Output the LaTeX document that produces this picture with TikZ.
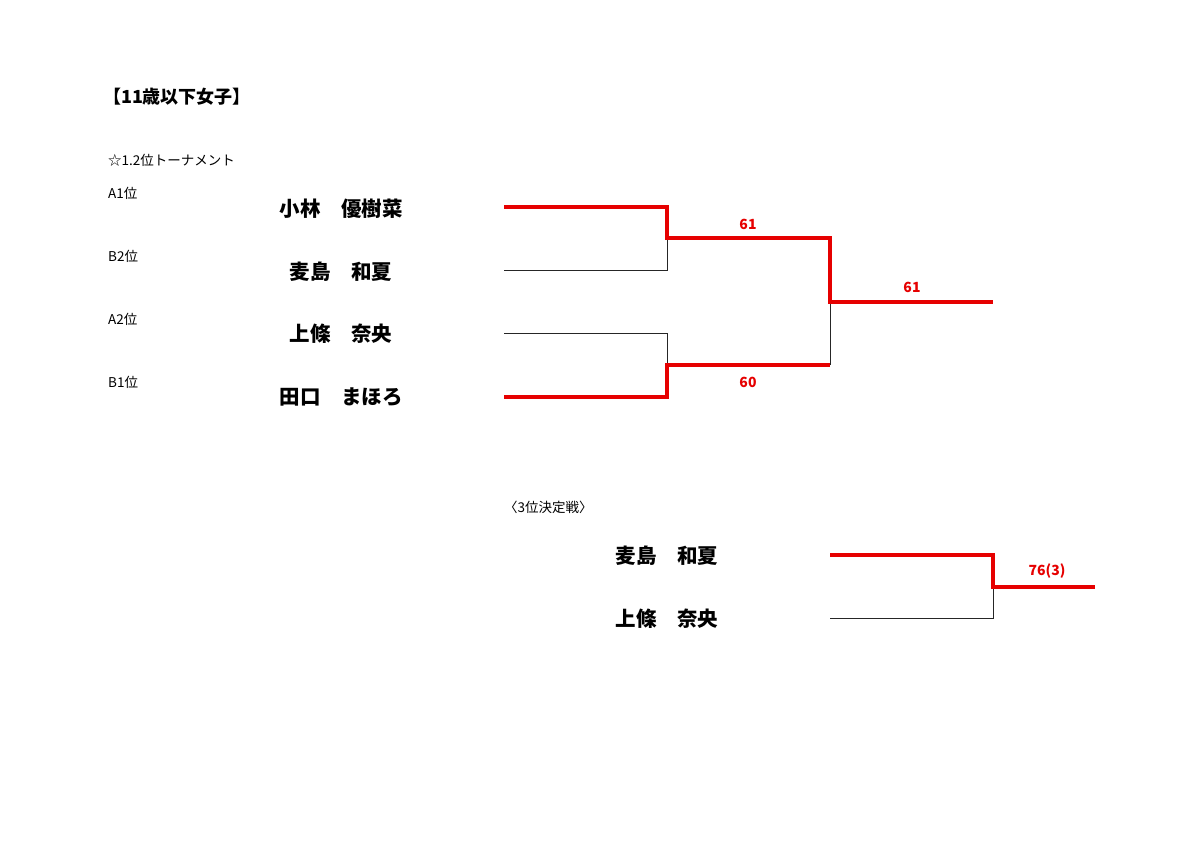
\documentclass[tikz,border=0pt]{standalone}
\usepackage{fontspec}
\setmainfont{Noto Sans CJK JP}
\begin{document}
\begin{tikzpicture}[x=1pt,y=-1pt,
  namelab/.style={font=\bfseries\fontsize{20.5}{22}\selectfont, inner sep=0pt},
  seedlab/.style={font=\fontsize{13.5}{15}\selectfont, anchor=west, inner sep=0pt},
  scorelab/.style={font=\bfseries\fontsize{14}{16}\selectfont, text={rgb,255:red,230;green,0;blue,0}, inner sep=0pt},
  winline/.style={draw={rgb,255:red,230;green,0;blue,0}, line width=3.5pt, line join=miter},
  loseline/.style={draw=black!85, line width=1pt}
]
\path[use as bounding box, fill=white] (0,0) rectangle (1200,848);

% headings
\node[font=\bfseries\fontsize{18}{20}\selectfont, inner sep=0pt] (title) at (177,97) {【11歳以下女子】};
\node[seedlab] (sub) at (108,160) {☆1.2位トーナメント};

% seeds
\node[seedlab] (sA1) at (108,193) {A1位};
\node[seedlab] (sB2) at (108,256) {B2位};
\node[seedlab] (sA2) at (108,319) {A2位};
\node[seedlab] (sB1) at (108,382) {B1位};

% names
\node[namelab] (n1) at (341,209) {小林\hspace{1em}優樹菜};
\node[namelab] (n2) at (341,272) {麦島\hspace{1em}和夏};
\node[namelab] (n3) at (341,334) {上條\hspace{1em}奈央};
\node[namelab] (n4) at (341,397) {田口\hspace{1em}まほろ};

% bracket coordinates
\coordinate (p1) at (504,207);  \coordinate (q1) at (667,207);
\coordinate (p2) at (504,270);  \coordinate (q2) at (667,270);
\coordinate (p3) at (504,333);  \coordinate (q3) at (667,333);
\coordinate (p4) at (504,397);  \coordinate (q4) at (667,397);
\coordinate (m1) at (667,238);  \coordinate (r1) at (830,238);
\coordinate (m2) at (667,365);  \coordinate (r2) at (830,365);
\coordinate (f)  at (830,302);  \coordinate (w)  at (993,302);

\draw[loseline] (p2) -- (q2) -- (m1);
\draw[loseline] (p3) -- (q3) -- (m2);
\draw[loseline] (r2) -- (f);
\draw[winline] (p1) -- (q1) -- (m1) -- (r1) -- (f) -- (w);
\draw[winline] (p4) -- (q4) -- (m2) -- (r2);

\node[scorelab] (s1) at (748,224) {61};
\node[scorelab] (s2) at (748,382) {60};
\node[scorelab] (s3) at (912,287) {61};

% third place
\node[seedlab] (third) at (504,507) {〈3位決定戦〉};
\node[namelab] (t1) at (667,556) {麦島\hspace{1em}和夏};
\node[namelab] (t2) at (667,619) {上條\hspace{1em}奈央};

\coordinate (u1) at (830,555); \coordinate (v1) at (993,555);
\coordinate (u2) at (830,618); \coordinate (v2) at (993,618);
\coordinate (g)  at (993,587); \coordinate (h)  at (1095,587);

\draw[loseline] (u2) -- (v2) -- (g);
\draw[winline] (u1) -- (v1) -- (g) -- (h);
\node[scorelab] (s4) at (1047,571) {76(3)};
\end{tikzpicture}
\end{document}
